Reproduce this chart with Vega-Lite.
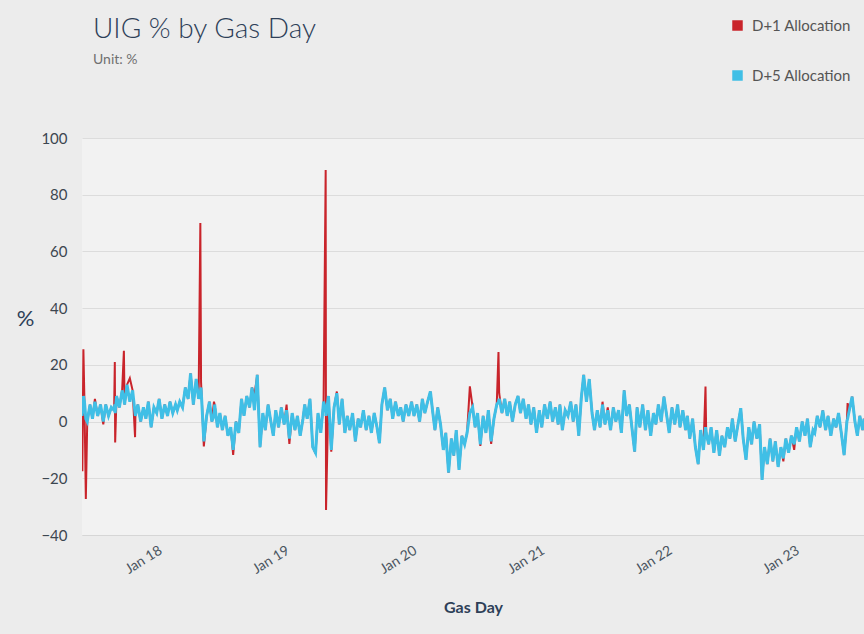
{
"$schema": "https://vega.github.io/schema/vega-lite/v6.json",
"width": 782, "height": 397,
"autosize": {"type": "none"},
"padding": {"left": 82, "top": 138, "right": 0, "bottom": 99},
"background": "#ececec",
"config": {"view": {"fill": "#f2f2f2", "stroke": null}, "font": "Lato"},
"title": {"text": "UIG % by Gas Day", "subtitle": "Unit: %", "anchor": "start", "frame": "group", "dx": 11, "offset": -49, "fontSize": 28, "fontWeight": 300, "color": "#2e4058", "subtitleFontSize": 14, "subtitleColor": "#707070", "subtitlePadding": 9},
"data": {"values": [
{"d":"2017-06-01","d1":2,"d5":2},{"d":"2017-06-02","d1":-17.5,"d5":3},{"d":"2017-06-05","d1":25.5,"d5":9},{"d":"2017-06-08","d1":7,"d5":7},{"d":"2017-06-12","d1":-27.3,"d5":1},{"d":"2017-06-16","d1":0,"d5":0},{"d":"2017-06-24","d1":6,"d5":6},
{"d":"2017-07-01","d1":1,"d5":1},{"d":"2017-07-08","d1":8,"d5":7},{"d":"2017-07-16","d1":2,"d5":2},{"d":"2017-07-24","d1":6,"d5":6},
{"d":"2017-08-01","d1":-1,"d5":0},{"d":"2017-08-08","d1":6,"d5":6},{"d":"2017-08-16","d1":2,"d5":2},{"d":"2017-08-24","d1":5,"d5":5},
{"d":"2017-09-01","d1":4,"d5":4},{"d":"2017-09-03","d1":21,"d5":6},{"d":"2017-09-04","d1":-7.4,"d5":3},{"d":"2017-09-08","d1":9,"d5":9},{"d":"2017-09-16","d1":5,"d5":5},{"d":"2017-09-24","d1":11,"d5":11},{"d":"2017-09-29","d1":25,"d5":8},
{"d":"2017-10-01","d1":6,"d5":6},{"d":"2017-10-08","d1":13,"d5":13},{"d":"2017-10-16","d1":15.3,"d5":7},{"d":"2017-10-24","d1":11,"d5":11},{"d":"2017-10-31","d1":-5.5,"d5":3},
{"d":"2017-11-01","d1":2,"d5":2},{"d":"2017-11-08","d1":6,"d5":6},{"d":"2017-11-16","d1":0,"d5":0},{"d":"2017-11-24","d1":5,"d5":5},
{"d":"2017-12-01","d1":1,"d5":1},{"d":"2017-12-08","d1":7,"d5":7},{"d":"2017-12-16","d1":-2,"d5":-2},{"d":"2017-12-24","d1":5,"d5":5},
{"d":"2018-01-01","d1":3,"d5":3},{"d":"2018-01-08","d1":8,"d5":8},{"d":"2018-01-16","d1":1,"d5":1},{"d":"2018-01-24","d1":6,"d5":6},
{"d":"2018-02-01","d1":2,"d5":2},{"d":"2018-02-08","d1":7,"d5":7},{"d":"2018-02-16","d1":3,"d5":3},{"d":"2018-02-24","d1":6,"d5":6},
{"d":"2018-03-01","d1":4,"d5":4},{"d":"2018-03-08","d1":7,"d5":7},{"d":"2018-03-16","d1":5,"d5":5},{"d":"2018-03-24","d1":12,"d5":12},
{"d":"2018-04-01","d1":8,"d5":8},{"d":"2018-04-08","d1":17,"d5":17},{"d":"2018-04-16","d1":6,"d5":6},{"d":"2018-04-24","d1":15,"d5":15},
{"d":"2018-05-01","d1":8,"d5":8},{"d":"2018-05-06","d1":70,"d5":10},{"d":"2018-05-08","d1":14,"d5":12},{"d":"2018-05-16","d1":-8.8,"d5":-7},{"d":"2018-05-24","d1":2,"d5":2},
{"d":"2018-06-01","d1":7,"d5":7},{"d":"2018-06-08","d1":0,"d5":0},{"d":"2018-06-14","d1":7,"d5":2},{"d":"2018-06-16","d1":6,"d5":6},{"d":"2018-06-24","d1":-2,"d5":-2},
{"d":"2018-07-01","d1":3,"d5":3},{"d":"2018-07-08","d1":-3,"d5":-3},{"d":"2018-07-16","d1":2,"d5":2},{"d":"2018-07-24","d1":-5,"d5":-5},
{"d":"2018-08-01","d1":-2,"d5":-2},{"d":"2018-08-08","d1":-11.8,"d5":-10},{"d":"2018-08-16","d1":0,"d5":0},{"d":"2018-08-24","d1":-4,"d5":-4},
{"d":"2018-09-01","d1":8,"d5":8},{"d":"2018-09-08","d1":2,"d5":2},{"d":"2018-09-16","d1":9,"d5":9},{"d":"2018-09-24","d1":5,"d5":5},
{"d":"2018-10-01","d1":12,"d5":12},{"d":"2018-10-08","d1":9.4,"d5":4},{"d":"2018-10-16","d1":16.5,"d5":16.5},{"d":"2018-10-24","d1":-9,"d5":-9},
{"d":"2018-11-01","d1":3,"d5":3},{"d":"2018-11-08","d1":-3,"d5":-3},{"d":"2018-11-16","d1":6,"d5":6},{"d":"2018-11-24","d1":0,"d5":0},
{"d":"2018-12-01","d1":-5,"d5":-5},{"d":"2018-12-08","d1":4,"d5":4},{"d":"2018-12-16","d1":-2,"d5":-2},{"d":"2018-12-24","d1":5,"d5":5},
{"d":"2019-01-01","d1":-1,"d5":-1},{"d":"2019-01-08","d1":6,"d5":4},{"d":"2019-01-16","d1":-7.9,"d5":-6},{"d":"2019-01-24","d1":3,"d5":3},
{"d":"2019-02-01","d1":-3,"d5":-3},{"d":"2019-02-08","d1":2,"d5":2},{"d":"2019-02-16","d1":-5,"d5":-5},{"d":"2019-02-24","d1":1,"d5":1},
{"d":"2019-03-01","d1":6,"d5":6},{"d":"2019-03-08","d1":1,"d5":1},{"d":"2019-03-16","d1":8,"d5":8},{"d":"2019-03-24","d1":-9,"d5":-9},
{"d":"2019-04-01","d1":-11.2,"d5":-11},{"d":"2019-04-08","d1":3,"d5":3},{"d":"2019-04-16","d1":-4,"d5":-4},{"d":"2019-04-24","d1":7,"d5":7},{"d":"2019-04-30","d1":88.7,"d5":4},{"d":"2019-05-01","d1":-31.2,"d5":2},
{"d":"2019-05-08","d1":9,"d5":9},{"d":"2019-05-16","d1":-10.6,"d5":-10},{"d":"2019-05-24","d1":5,"d5":5},
{"d":"2019-06-01","d1":10.6,"d5":10},{"d":"2019-06-08","d1":-1,"d5":-1},{"d":"2019-06-16","d1":8,"d5":8},{"d":"2019-06-24","d1":-4,"d5":-4},
{"d":"2019-07-01","d1":2,"d5":2},{"d":"2019-07-08","d1":-3,"d5":-3},{"d":"2019-07-16","d1":3,"d5":3},{"d":"2019-07-24","d1":-7,"d5":-7},
{"d":"2019-08-01","d1":1,"d5":1},{"d":"2019-08-08","d1":-2,"d5":-2},{"d":"2019-08-16","d1":4,"d5":4},{"d":"2019-08-24","d1":-3,"d5":-3},
{"d":"2019-09-01","d1":2,"d5":2},{"d":"2019-09-08","d1":-4,"d5":-4},{"d":"2019-09-16","d1":3,"d5":3},{"d":"2019-09-24","d1":-2,"d5":-2},
{"d":"2019-10-01","d1":-7.6,"d5":-7.6},{"d":"2019-10-08","d1":6,"d5":6},{"d":"2019-10-16","d1":12,"d5":12},{"d":"2019-10-24","d1":4,"d5":4},
{"d":"2019-11-01","d1":8,"d5":8},{"d":"2019-11-08","d1":1,"d5":1},{"d":"2019-11-16","d1":7,"d5":7},{"d":"2019-11-24","d1":2,"d5":2},
{"d":"2019-12-01","d1":5,"d5":5},{"d":"2019-12-08","d1":0,"d5":0},{"d":"2019-12-16","d1":6,"d5":6},{"d":"2019-12-24","d1":2,"d5":2},
{"d":"2020-01-01","d1":7,"d5":7},{"d":"2020-01-08","d1":2,"d5":2},{"d":"2020-01-16","d1":6,"d5":6},{"d":"2020-01-24","d1":0,"d5":0},
{"d":"2020-02-01","d1":8,"d5":8},{"d":"2020-02-08","d1":3,"d5":3},{"d":"2020-02-16","d1":7,"d5":7},{"d":"2020-02-24","d1":10.6,"d5":10.6},
{"d":"2020-03-01","d1":4,"d5":4},{"d":"2020-03-08","d1":-3,"d5":-3},{"d":"2020-03-16","d1":5,"d5":5},{"d":"2020-03-24","d1":-1,"d5":-1},
{"d":"2020-04-01","d1":-10,"d5":-10},{"d":"2020-04-08","d1":-4,"d5":-4},{"d":"2020-04-16","d1":-18,"d5":-18},{"d":"2020-04-24","d1":-6,"d5":-6},
{"d":"2020-05-01","d1":-12,"d5":-12},{"d":"2020-05-08","d1":-3,"d5":-3},{"d":"2020-05-16","d1":-17,"d5":-17},{"d":"2020-05-24","d1":-5,"d5":-5},
{"d":"2020-06-01","d1":-8,"d5":-8},{"d":"2020-06-08","d1":-4,"d5":-4},{"d":"2020-06-16","d1":12.4,"d5":3},{"d":"2020-06-24","d1":5,"d5":5},
{"d":"2020-07-01","d1":-2,"d5":-2},{"d":"2020-07-08","d1":3,"d5":3},{"d":"2020-07-16","d1":-8.6,"d5":-8},{"d":"2020-07-24","d1":2,"d5":2},
{"d":"2020-08-01","d1":-4,"d5":-4},{"d":"2020-08-08","d1":4,"d5":4},{"d":"2020-08-16","d1":-7.9,"d5":-7},{"d":"2020-08-24","d1":1,"d5":1},
{"d":"2020-09-01","d1":6,"d5":6},{"d":"2020-09-06","d1":24.5,"d5":7},{"d":"2020-09-08","d1":10,"d5":8},{"d":"2020-09-16","d1":3,"d5":3},{"d":"2020-09-24","d1":8,"d5":8},
{"d":"2020-10-01","d1":2,"d5":2},{"d":"2020-10-08","d1":7,"d5":7},{"d":"2020-10-16","d1":0,"d5":0},{"d":"2020-10-24","d1":6,"d5":6},
{"d":"2020-11-01","d1":9,"d5":9},{"d":"2020-11-08","d1":3,"d5":3},{"d":"2020-11-16","d1":8,"d5":8},{"d":"2020-11-24","d1":1,"d5":1},
{"d":"2020-12-01","d1":6,"d5":6},{"d":"2020-12-08","d1":-1,"d5":-1},{"d":"2020-12-16","d1":5,"d5":5},{"d":"2020-12-24","d1":-4,"d5":-4},
{"d":"2021-01-01","d1":4,"d5":4},{"d":"2021-01-08","d1":-2,"d5":-2},{"d":"2021-01-16","d1":6,"d5":6},{"d":"2021-01-24","d1":1,"d5":1},
{"d":"2021-02-01","d1":7,"d5":7},{"d":"2021-02-08","d1":0,"d5":0},{"d":"2021-02-16","d1":5,"d5":5},{"d":"2021-02-24","d1":-1,"d5":-1},
{"d":"2021-03-01","d1":6,"d5":6},{"d":"2021-03-08","d1":-3,"d5":-3},{"d":"2021-03-16","d1":4,"d5":4},{"d":"2021-03-24","d1":2,"d5":2},
{"d":"2021-04-01","d1":7,"d5":7},{"d":"2021-04-08","d1":0,"d5":0},{"d":"2021-04-16","d1":6,"d5":6},{"d":"2021-04-24","d1":-5,"d5":-5},
{"d":"2021-05-01","d1":8,"d5":8},{"d":"2021-05-08","d1":16.5,"d5":16.5},{"d":"2021-05-16","d1":7,"d5":7},{"d":"2021-05-24","d1":15,"d5":15},
{"d":"2021-06-01","d1":3,"d5":3},{"d":"2021-06-08","d1":-3,"d5":-3},{"d":"2021-06-16","d1":4,"d5":4},{"d":"2021-06-24","d1":-2,"d5":-2},
{"d":"2021-07-01","d1":7,"d5":6},{"d":"2021-07-08","d1":-1,"d5":-1},{"d":"2021-07-16","d1":5,"d5":4},{"d":"2021-07-24","d1":-3,"d5":-3},
{"d":"2021-08-01","d1":5,"d5":5},{"d":"2021-08-08","d1":0,"d5":0},{"d":"2021-08-16","d1":4,"d5":4},{"d":"2021-08-24","d1":-4,"d5":-4},
{"d":"2021-09-01","d1":11,"d5":11},{"d":"2021-09-08","d1":2,"d5":2},{"d":"2021-09-16","d1":6,"d5":6},{"d":"2021-09-24","d1":-3,"d5":-3},
{"d":"2021-10-01","d1":-10.6,"d5":-10.6},{"d":"2021-10-08","d1":5,"d5":5},{"d":"2021-10-16","d1":-2,"d5":-2},{"d":"2021-10-24","d1":6,"d5":6},
{"d":"2021-11-01","d1":-3,"d5":-3},{"d":"2021-11-08","d1":4,"d5":4},{"d":"2021-11-16","d1":-5,"d5":-5},{"d":"2021-11-24","d1":3,"d5":3},
{"d":"2021-12-01","d1":-1,"d5":-1},{"d":"2021-12-08","d1":6,"d5":6},{"d":"2021-12-16","d1":0,"d5":0},{"d":"2021-12-24","d1":8.8,"d5":8.8},
{"d":"2022-01-01","d1":2,"d5":2},{"d":"2022-01-08","d1":-4,"d5":-4},{"d":"2022-01-16","d1":5,"d5":5},{"d":"2022-01-24","d1":-1,"d5":-1},
{"d":"2022-02-01","d1":6,"d5":6},{"d":"2022-02-08","d1":-2,"d5":-2},{"d":"2022-02-16","d1":4,"d5":4},{"d":"2022-02-24","d1":-3,"d5":-3},
{"d":"2022-03-01","d1":2,"d5":2},{"d":"2022-03-08","d1":-6,"d5":-6},{"d":"2022-03-16","d1":1,"d5":1},{"d":"2022-03-24","d1":-9,"d5":-9},
{"d":"2022-04-01","d1":-15,"d5":-15},{"d":"2022-04-08","d1":-3,"d5":-3},{"d":"2022-04-16","d1":-10,"d5":-10},{"d":"2022-04-22","d1":12.4,"d5":-2},{"d":"2022-04-24","d1":-4,"d5":-4},
{"d":"2022-05-01","d1":-8,"d5":-8},{"d":"2022-05-08","d1":-2,"d5":-2},{"d":"2022-05-16","d1":-11,"d5":-11},{"d":"2022-05-24","d1":-3,"d5":-3},
{"d":"2022-06-01","d1":-12,"d5":-12},{"d":"2022-06-08","d1":-5,"d5":-5},{"d":"2022-06-16","d1":-9,"d5":-9},{"d":"2022-06-24","d1":-2,"d5":-2},
{"d":"2022-07-01","d1":-6,"d5":-6},{"d":"2022-07-08","d1":1,"d5":1},{"d":"2022-07-16","d1":-7,"d5":-7},{"d":"2022-07-24","d1":-1,"d5":-1},
{"d":"2022-08-01","d1":4.7,"d5":4.7},{"d":"2022-08-08","d1":-6,"d5":-6},{"d":"2022-08-16","d1":-13.5,"d5":-13.5},{"d":"2022-08-24","d1":-2,"d5":-2},
{"d":"2022-09-01","d1":-8,"d5":-8},{"d":"2022-09-08","d1":0,"d5":0},{"d":"2022-09-16","d1":-6,"d5":-6},{"d":"2022-09-24","d1":-1,"d5":-1},
{"d":"2022-10-01","d1":-20.6,"d5":-20.6},{"d":"2022-10-08","d1":-9,"d5":-9},{"d":"2022-10-16","d1":-15,"d5":-15},{"d":"2022-10-24","d1":-6,"d5":-6},
{"d":"2022-11-01","d1":-14,"d5":-14},{"d":"2022-11-08","d1":-7,"d5":-7},{"d":"2022-11-16","d1":-16,"d5":-16},{"d":"2022-11-24","d1":-9,"d5":-9},
{"d":"2022-12-01","d1":-14,"d5":-13},{"d":"2022-12-08","d1":-6,"d5":-6},{"d":"2022-12-16","d1":-11,"d5":-11},{"d":"2022-12-24","d1":-5,"d5":-5},
{"d":"2023-01-01","d1":-10,"d5":-8},{"d":"2023-01-08","d1":-2,"d5":-2},{"d":"2023-01-16","d1":-7,"d5":-7},{"d":"2023-01-24","d1":0,"d5":0},
{"d":"2023-02-01","d1":-5,"d5":-5},{"d":"2023-02-08","d1":1,"d5":1},{"d":"2023-02-16","d1":-9,"d5":-9},{"d":"2023-02-24","d1":-3,"d5":-3},
{"d":"2023-03-01","d1":-4,"d5":-4},{"d":"2023-03-08","d1":2,"d5":2},{"d":"2023-03-16","d1":-2,"d5":-2},{"d":"2023-03-24","d1":3.9,"d5":3.9},
{"d":"2023-04-01","d1":-3,"d5":-3},{"d":"2023-04-08","d1":2,"d5":2},{"d":"2023-04-16","d1":-5,"d5":-5},{"d":"2023-04-24","d1":1,"d5":1},
{"d":"2023-05-01","d1":-2,"d5":-2},{"d":"2023-05-08","d1":3,"d5":3},{"d":"2023-05-16","d1":-4,"d5":-4},{"d":"2023-05-24","d1":-11.8,"d5":-11.8},
{"d":"2023-06-01","d1":0,"d5":0},{"d":"2023-06-03","d1":6.5,"d5":1},{"d":"2023-06-08","d1":4,"d5":4},{"d":"2023-06-16","d1":8.8,"d5":8.8},{"d":"2023-06-24","d1":0,"d5":0},
{"d":"2023-07-01","d1":-5,"d5":-5},{"d":"2023-07-08","d1":2,"d5":2},{"d":"2023-07-16","d1":-3,"d5":-3},{"d":"2023-07-20","d1":1,"d5":1}
]},
"encoding": {
  "x": {"field": "d", "type": "temporal",
        "scale": {"domain": ["2017-06-01", "2023-07-20"]},
        "axis": {"title": "Gas Day", "titleFontSize": 16, "titleFontWeight": "bold", "titleColor": "#2e4058", "titleY": 72, "titleBaseline": "middle",
                 "format": "%b %y", "tickCount": {"interval": "year", "step": 1}, "labelAngle": -32, "labelFontSize": 14, "labelColor": "#4a5560",
                 "grid": false, "ticks": false, "domain": true, "domainColor": "#d6d6d6", "labelPadding": 8}}
},
"layer": [
  {"mark": {"type": "line", "strokeWidth": 2, "clip": true},
   "encoding": {
     "y": {"field": "d1", "type": "quantitative", "scale": {"domain": [-40, 100], "nice": false},
           "axis": {"title": "%", "titleAngle": 0, "titleX": -57, "titleY": 180, "titleAlign": "center", "titleBaseline": "middle", "titleFontSize": 22, "titleFontWeight": "normal", "titleColor": "#2e4058",
                    "values": [-40, -20, 0, 20, 40, 60, 80, 100], "domain": false, "ticks": false, "labelPadding": 15, "labelFontSize": 15, "labelColor": "#3c4650", "gridColor": "#dcdcdc"}},
     "color": {"datum": "D+1 Allocation", "type": "nominal",
               "scale": {"domain": ["D+1 Allocation", "D+5 Allocation"], "range": ["#c9242b", "#40bfe6"]},
               "legend": {"orient": "none", "legendX": 648, "legendY": -120, "title": null, "symbolType": "square", "symbolSize": 110, "symbolStrokeWidth": 0,
                          "labelFontSize": 15, "labelColor": "#555555", "rowPadding": 34, "labelOffset": 7,
                          "encode": {"symbols": {"update": {"fill": {"scale": "color", "field": "value"}, "opacity": {"value": 1}}}}}}
   }},
  {"mark": {"type": "line", "strokeWidth": 3, "clip": true},
   "encoding": {
     "y": {"field": "d5", "type": "quantitative"},
     "color": {"datum": "D+5 Allocation", "type": "nominal"}
   }}
]
}
